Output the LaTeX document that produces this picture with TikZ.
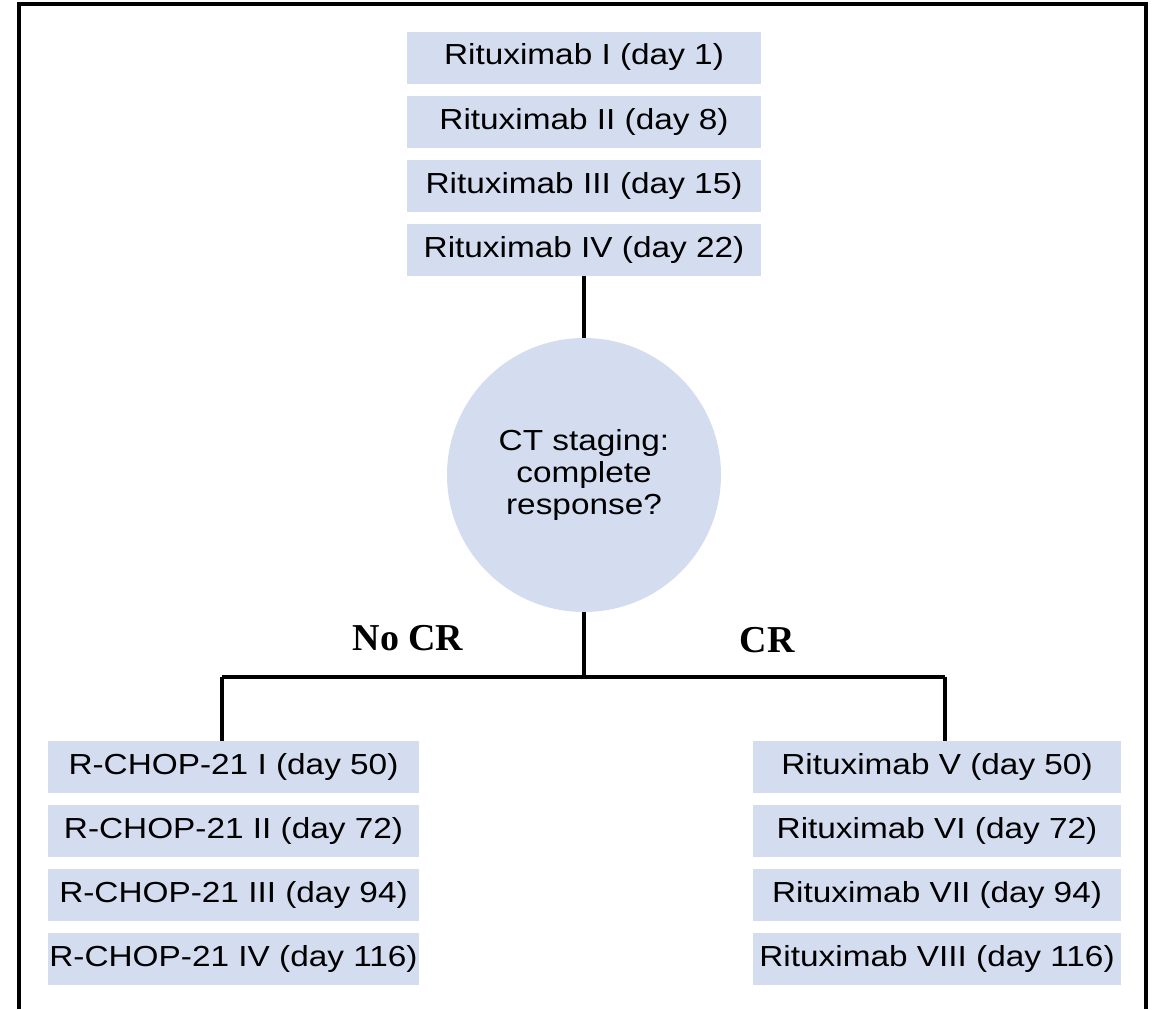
\documentclass[tikz,border=0pt]{standalone}
\usepackage{fontspec}
\setmainfont{Liberation Sans}[FakeStretch=1.15]
\newfontfamily\labelfont{Liberation Serif}
\usetikzlibrary{positioning}
\definecolor{boxblue}{RGB}{212,220,240}

\begin{document}
\begin{tikzpicture}[x=1pt,y=-1pt]
\tikzstyle{box}=[rectangle,fill=boxblue,inner sep=0pt,
minimum width=354pt,minimum height=52pt,node distance=64pt,
font=\fontsize{29}{34}\selectfont]
\tikzstyle{link}=[line width=3.5pt]
\tikzstyle{branch}=[font=\labelfont\bfseries\fontsize{38}{40}\selectfont]
\useasboundingbox (0,0) rectangle (1153,1009);
% frame, open at the bottom
\draw[line width=3.5pt] (19,1009) -- (19,4) -- (1146,4) -- (1146,1009);

\node[box] at (584,57.5) (1) {Rituximab I (day 1)};
\node[box,below of =1] (2) {Rituximab II (day 8)};
\node[box,below of =2] (3) {Rituximab III (day 15)};
\node[box,below of =3] (4) {Rituximab IV (day 22)};

\node[circle,fill=boxblue,minimum size=274pt,inner sep=0pt,align=center,
font=\fontsize{29}{32}\selectfont] at (584,475) (5) {CT staging:\\complete\\response?};

\node[box,minimum width=371pt] at (233.5,767) (6) {R-CHOP-21 I (day 50)};
\node[box,minimum width=371pt,below of =6] (7) {R-CHOP-21 II (day 72)};
\node[box,minimum width=371pt,below of =7] (8) {R-CHOP-21 III (day 94)};
\node[box,minimum width=371pt,below of =8] (9) {R-CHOP-21 IV (day 116)};

\node[box,minimum width=368pt] at (937,767) (10) {Rituximab V (day 50)};
\node[box,minimum width=368pt,below of =10] (11) {Rituximab VI (day 72)};
\node[box,minimum width=368pt,below of =11] (12) {Rituximab VII (day 94)};
\node[box,minimum width=368pt,below of =12] (13) {Rituximab VIII (day 116)};

\node[branch] at (408,638) (nocr) {No CR};
\node[branch] at (767,640) (cr) {CR};

\coordinate (j) at (584,677);
\coordinate (jl) at (222,677);
\coordinate (jr) at (945,677);

\draw[link] (4) -- (5);
\draw[link] (5) -- (j);
\draw[link] (jl) -- (jr);
\draw[link] (jl) -- (jl |- 6.north);
\draw[link] (jr) -- (jr |- 10.north);

\end{tikzpicture}
\end{document}
